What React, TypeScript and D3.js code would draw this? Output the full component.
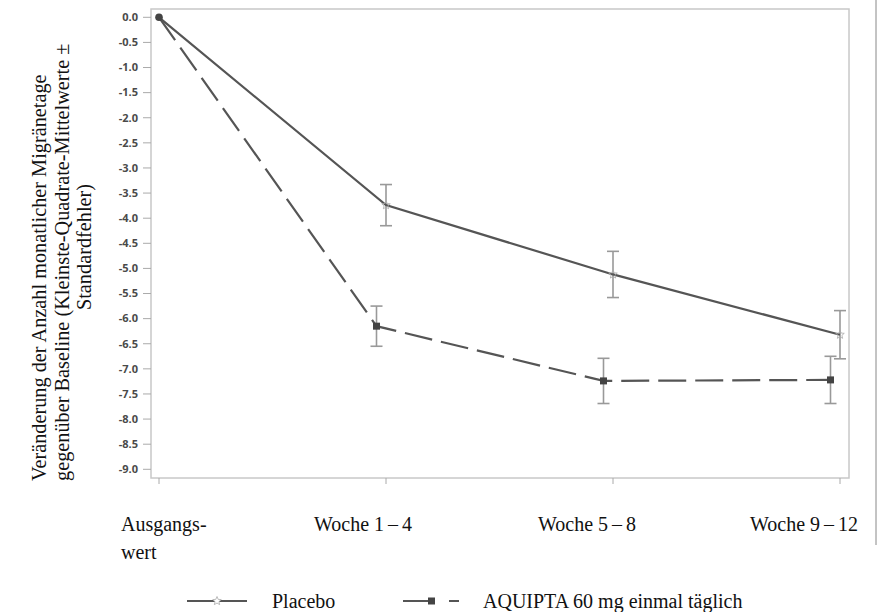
import React from "react";
import * as d3 from "d3";

const categories = ["Ausgangswert", "Woche 1–4", "Woche 5–8", "Woche 9–12"];
const placeboMean = [0, -3.74, -5.12, -6.32];
const placeboSE = [0, 0.41, 0.46, 0.48];
const aquiptaMean = [0, -6.15, -7.24, -7.22];
const aquiptaSE = [0, 0.40, 0.45, 0.47];
const yTicks = [0, -0.5, -1, -1.5, -2, -2.5, -3, -3.5, -4, -4.5, -5, -5.5, -6, -6.5, -7, -7.5, -8, -8.5, -9];
const xLabelLines = [["Ausgangs-", "wert"], ["Woche 1\u2009–\u20094"], ["Woche 5\u2009–\u20098"], ["Woche 9\u2009–\u200912"]];
const xLabelStarts = [121, 314, 538, 750];
const yTitleLines = [
  "Veränderung der Anzahl monatlicher Migränetage",
  "gegenüber Baseline (Kleinste-Quadrate-Mittelwerte ±",
  "Standardfehler)",
];

const W = 877, H = 612;
const frame = { left: 151, top: 9, right: 849, bottom: 478 };

export default function App() {
  const x = d3.scalePoint<string>().domain(categories).range([159, 840]);
  const y = d3.scaleLinear().domain([0, -9]).range([17.3, 469.3]);
  const aqOffset = (i: number) => (i === 0 ? 0 : -9.5);

  const line = d3.line<[number, number]>().x(d => d[0]).y(d => d[1]);
  const pPts: [number, number][] = placeboMean.map((v, i) => [x(categories[i])!, y(v)]);
  const aPts: [number, number][] = aquiptaMean.map((v, i) => [x(categories[i])! + aqOffset(i), y(v)]);

  const serif = "'Liberation Serif', 'Times New Roman', serif";
  const sans = "'Open Sans', 'DejaVu Sans', sans-serif";
  const lineColor = "#555";
  const errColor = "#999";

  const errBar = (cx: number, m: number, se: number, key: string) =>
    se > 0 ? (
      <g key={key} stroke={errColor} strokeWidth={1.6}>
        <line x1={cx} x2={cx} y1={y(m + se)} y2={y(m - se)} />
        <line x1={cx - 6} x2={cx + 6} y1={y(m + se)} y2={y(m + se)} />
        <line x1={cx - 6} x2={cx + 6} y1={y(m - se)} y2={y(m - se)} />
      </g>
    ) : null;

  const star = (cx: number, cy: number, r: number) => {
    const pts: string[] = [];
    for (let k = 0; k < 10; k++) {
      const rr = k % 2 === 0 ? r : r * 0.45;
      const a = -Math.PI / 2 + (k * Math.PI) / 5;
      pts.push(`${cx + rr * Math.cos(a)},${cy + rr * Math.sin(a)}`);
    }
    return pts.join(" ");
  };

  const titlePos = [
    { x: 46, y: 481, anchor: "start" },
    { x: 68.5, y: 481, anchor: "start" },
    { x: 91, y: 247, anchor: "middle" },
  ];

  return (
    <svg width={W} height={H} style={{ position: "absolute", left: 0, top: 0, background: "#fff" }}>
      <rect x={0} y={0} width={W} height={H} fill="#fff" />
      {/* right edge line */}
      <line x1={876} x2={876} y1={0} y2={545} stroke="#888" strokeWidth={1} />
      {/* frame */}
      <rect x={frame.left} y={frame.top} width={frame.right - frame.left} height={frame.bottom - frame.top}
        fill="none" stroke="#c8c8c8" strokeWidth={1.5} />
      {/* y ticks */}
      {yTicks.map(t => (
        <g key={t}>
          <line x1={143} x2={frame.left} y1={y(t)} y2={y(t)} stroke="#aaa" strokeWidth={1} />
          <text x={138} y={y(t)} dy="0.35em" textAnchor="end" fontFamily={sans} fontWeight={700}
            fontSize={11} fill="#4a4a4a">{t.toFixed(1)}</text>
        </g>
      ))}
      {/* x ticks */}
      {categories.map(c => (
        <line key={c} x1={x(c)!} x2={x(c)!} y1={frame.bottom} y2={frame.bottom + 6} stroke="#aaa" strokeWidth={1} />
      ))}
      {/* x labels */}
      {xLabelLines.map((ls, i) => (
        <text key={i} x={xLabelStarts[i]} y={531} fontFamily={serif} fontSize={20} fill="#111">
          {ls.map((l, j) => (
            <tspan key={j} x={xLabelStarts[i]} dy={j === 0 ? 0 : 28}>{l}</tspan>
          ))}
        </text>
      ))}
      {/* y title */}
      {yTitleLines.map((l, i) => (
        <text key={i} transform={`translate(${titlePos[i].x},${titlePos[i].y}) rotate(-90)`}
          textAnchor={titlePos[i].anchor as any}
          fontFamily={serif} fontSize={20.3} fill="#111">{l}</text>
      ))}
      {/* error bars */}
      {placeboMean.map((m, i) => errBar(pPts[i][0], m, placeboSE[i], "pe" + i))}
      {aquiptaMean.map((m, i) => errBar(aPts[i][0], m, aquiptaSE[i], "ae" + i))}
      {/* lines */}
      <path d={line(pPts)!} fill="none" stroke={lineColor} strokeWidth={2.2} />
      <path d={line(aPts)!} fill="none" stroke={lineColor} strokeWidth={2.2} strokeDasharray="28,9" />
      {/* markers */}
      {pPts.slice(1).map((p, i) => (
        <polygon key={i} points={star(p[0], p[1], 4.5)} fill="none" stroke="#aaa" strokeWidth={0.8} />
      ))}
      {aPts.slice(1).map((p, i) => (
        <rect key={i} x={p[0] - 3.5} y={p[1] - 3.5} width={7} height={7} fill="#444" />
      ))}
      <circle cx={pPts[0][0]} cy={pPts[0][1]} r={3.8} fill="#444" />
      {/* legend */}
      <g>
        <line x1={187} x2={247} y1={601} y2={601} stroke={lineColor} strokeWidth={2.2} />
        <polygon points={star(217, 601, 4.5)} fill="#fff" stroke="#aaa" strokeWidth={0.8} />
        <text x={272} y={608} fontFamily={serif} fontSize={20} fill="#111">Placebo</text>
        <line x1={403} x2={459} y1={601} y2={601} stroke={lineColor} strokeWidth={2.2} strokeDasharray="28,18" />
        <rect x={428} y={597.5} width={7} height={7} fill="#444" />
        <text x={483} y={608} fontFamily={serif} fontSize={20} fill="#111">AQUIPTA 60 mg einmal täglich</text>
      </g>
    </svg>
  );
}
